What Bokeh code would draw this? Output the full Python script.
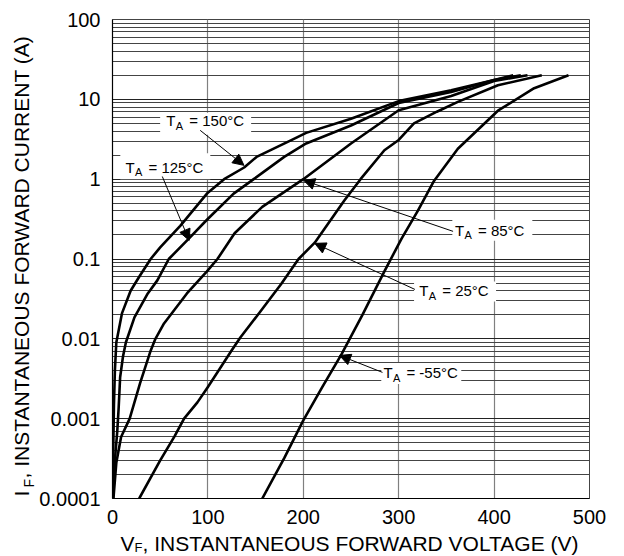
import math
from bokeh.plotting import figure
from bokeh.models import FixedTicker, Label, Arrow, NormalHead, Range1d
from bokeh.layouts import column, row
from bokeh.embed import file_html
from bokeh.resources import INLINE

# ---------------- data ----------------
x_ticks = [0, 100, 200, 300, 400, 500]
y_ticks = [0.0001, 0.001, 0.01, 0.1, 1, 10, 100]
y_tick_labels = ["0.0001", "0.001", "0.01", "0.1", "1", "10", "100"]

temps = ["150", "125", "85", "25", "-55"]

v_150 = [0.3, 0.8, 1.5, 2.5, 4, 10, 19, 28, 40, 50, 71, 99, 117, 138, 151, 188, 203, 250, 300, 355, 400, 420]
i_150 = [0.0001, 0.0004, 0.0015, 0.004, 0.009, 0.021, 0.04, 0.06, 0.1, 0.14, 0.26, 0.66, 1.0, 1.4, 1.9, 3.1, 3.8, 5.7, 9.5, 13, 17.5, 20]

v_125 = [0.5, 1.5, 2.5, 5, 6.5, 8, 11, 14, 23, 37, 47, 59, 80, 99, 127, 148, 180, 203, 250, 300, 355, 400, 428]
i_125 = [0.0001, 0.0002, 0.0003, 0.0007, 0.0014, 0.0033, 0.006, 0.009, 0.0186, 0.037, 0.054, 0.1, 0.18, 0.31, 0.66, 1.0, 1.9, 2.8, 4.7, 9.0, 12.4, 17.5, 20]

v_85 = [1, 4, 9, 18, 29, 40, 45, 54, 78, 99, 110, 128, 157, 200, 250, 300, 355, 400, 435]
i_85 = [0.0001, 0.00028, 0.00059, 0.001, 0.0028, 0.0071, 0.01, 0.0156, 0.037, 0.07, 0.1, 0.21, 0.45, 1.0, 2.8, 7.3, 11, 17, 20]

v_25 = [28, 50, 65, 75, 89, 100, 125, 134, 155, 177, 195, 212, 243, 260, 285, 300, 316, 340, 362, 404, 450]
i_25 = [0.0001, 0.0003, 0.0006, 0.001, 0.0016, 0.0025, 0.0072, 0.0104, 0.022, 0.049, 0.1, 0.16, 0.54, 1.0, 2.3, 3.1, 5.0, 7.0, 9.3, 15, 20]

v_m55 = [157, 180, 200, 220, 240, 262, 285, 303, 320, 337, 362, 404, 442, 478]
i_m55 = [0.0001, 0.00032, 0.00095, 0.0025, 0.0064, 0.02, 0.07, 0.18, 0.4, 0.95, 2.4, 7.2, 13.8, 20]

curves_v = [v_150, v_125, v_85, v_25, v_m55]
curves_i = [i_150, i_125, i_85, i_25, i_m55]

x_title = ["V", "F", ", INSTANTANEOUS FORWARD VOLTAGE (V)"]
y_title = ["I", "F", ", INSTANTANEOUS FORWARD CURRENT (A)"]

# annotation anchors (data units): label text start, arrow start / end
label_v = [56.4, 13.6, 359, 321.5, 284]
label_i = [4.72, 1.22, 0.198, 0.035, 0.00328]
arrow_v0 = [91.9, 52.2, 357, 317, 283]
arrow_i0 = [4.09, 1.08, 0.222, 0.0416, 0.0038]
arrow_v1 = [137.8, 80.4, 200.4, 212, 238]
arrow_i1 = [1.49, 0.171, 0.966, 0.157, 0.0062]

FONT = "Liberation Sans"
MID = 0.35   # label anchor sits at text middle: baseline is MID*size below it

# ---------------- layout sizes ----------------
TOTAL_W, TOTAL_H = 624, 556
YT_W = 36          # width of the y-title strip
XT_H = 26          # height of the x-title strip
PW, PH = TOTAL_W - YT_W, TOTAL_H - XT_H
FW = FH = 479
ML, MT = 110 - YT_W, 19
MR, MB = PW - ML - FW, PH - MT - FH

p = figure(width=PW, height=PH, x_range=(0, 500), y_range=(0.0001, 100),
           y_axis_type="log", output_backend="svg", toolbar_location=None,
           min_border_left=ML, min_border_right=MR, min_border_top=MT,
           min_border_bottom=MB, background_fill_color="white",
           border_fill_color="white")

minor = [k * 10.0 ** e for e in range(-4, 2) for k in range(2, 10)]
p.xaxis.ticker = FixedTicker(ticks=x_ticks)
p.yaxis.ticker = FixedTicker(ticks=y_ticks, minor_ticks=minor)
p.yaxis.major_label_overrides = dict(zip(y_ticks, y_tick_labels))

for ax in (p.xaxis[0], p.yaxis[0]):
    ax.axis_line_color = "black"
    ax.axis_line_width = 1.2
    ax.major_tick_line_color = None
    ax.minor_tick_line_color = None
    ax.major_tick_out = 0
    ax.major_tick_in = 0
    ax.major_label_text_font = FONT
    ax.major_label_text_font_size = "20px"
    ax.major_label_text_color = "black"
p.xaxis.major_label_standoff = 11
p.yaxis.major_label_standoff = 8

p.xgrid.grid_line_color = "#808080"
p.xgrid.grid_line_width = 1.2
p.ygrid.grid_line_color = "#222222"
p.ygrid.grid_line_width = 1
p.ygrid.minor_grid_line_color = "#444444"
p.ygrid.minor_grid_line_width = 1
p.outline_line_color = "#444444"
p.outline_line_width = 1

# white boxes behind labels
box_w = [91, 90, 80, 82, 80]
box_h = [22, 26, 21, 20, 21]
box_dx = [39.5, 40, 37.5, 36, 38]
box_dy = [1.5, 6, 5, 4, 4]
bx = [v + dx * 500.0 / FW for v, dx in zip(label_v, box_dx)]
by = [10 ** (math.log10(i) + dy * 6.0 / FH) for i, dy in zip(label_i, box_dy)]
p.rect(x=bx, y=by, width=box_w, height=box_h, width_units="screen",
       height_units="screen", fill_color="white", line_color=None)

# curves
for vv, ii in zip(curves_v, curves_i):
    p.line(vv, ii, line_color="black", line_width=2.6, line_join="round")

# arrows
for k in range(len(temps)):
    p.add_layout(Arrow(end=NormalHead(size=11, fill_color="black",
                                      line_color="black", line_width=1),
                       x_start=arrow_v0[k], y_start=arrow_i0[k],
                       x_end=arrow_v1[k], y_end=arrow_i1[k],
                       line_color="black", line_width=1))


def lab(fig, x, y, text, size, dx=0, dy=0, angle=0.0):
    fig.add_layout(Label(x=x, y=y, text=text,
                         x_offset=dx, y_offset=dy, angle=angle,
                         text_font=FONT, text_font_size=f"{size}px",
                         text_color="black", text_align="left",
                         text_baseline="alphabetic"))


for k, t in enumerate(temps):
    lab(p, label_v[k], label_i[k], "T", 15, dy=MID * 15)
    lab(p, label_v[k], label_i[k], "A", 11, dx=9.5, dy=-4 + MID * 11)
    lab(p, label_v[k], label_i[k], f"= {t}°C", 15, dx=23, dy=MID * 15)


def strip(w, h, xr, yr):
    f = figure(width=w, height=h, x_range=xr, y_range=yr,
               output_backend="svg", toolbar_location=None, title=None,
               x_axis_location=None, y_axis_location=None,
               min_border=0, min_border_left=0, min_border_right=0,
               min_border_top=0, min_border_bottom=0,
               background_fill_color="white", border_fill_color="white")
    f.grid.visible = False
    f.outline_line_color = None
    return f


# y-title strip: its frame is aligned with the main frame (page y 19..498);
# reversed y range so that data y equals the page pixel row.
yfig = strip(YT_W, PH, Range1d(0, YT_W), Range1d(MT + FH, MT))
lab(yfig, 28 - MID * 21, 496, y_title[0], 21, angle=math.pi / 2)
lab(yfig, 33 - MID * 14, 487, y_title[1], 14, angle=math.pi / 2)
lab(yfig, 28 - MID * 21, 478, y_title[2], 21, angle=math.pi / 2)

# x-title strip: frame = whole strip (page y 530..556)
xfig = strip(TOTAL_W, XT_H, Range1d(0, TOTAL_W), Range1d(TOTAL_H, PH))
lab(xfig, 120, 550 - MID * 21, x_title[0], 21)
lab(xfig, 134, 552 - MID * 13, x_title[1], 13)
lab(xfig, 142, 550 - MID * 21, x_title[2], 21)

layout = column(row(yfig, p, spacing=0), xfig, spacing=0)
open("out.html", "w").write(file_html(layout, INLINE))
